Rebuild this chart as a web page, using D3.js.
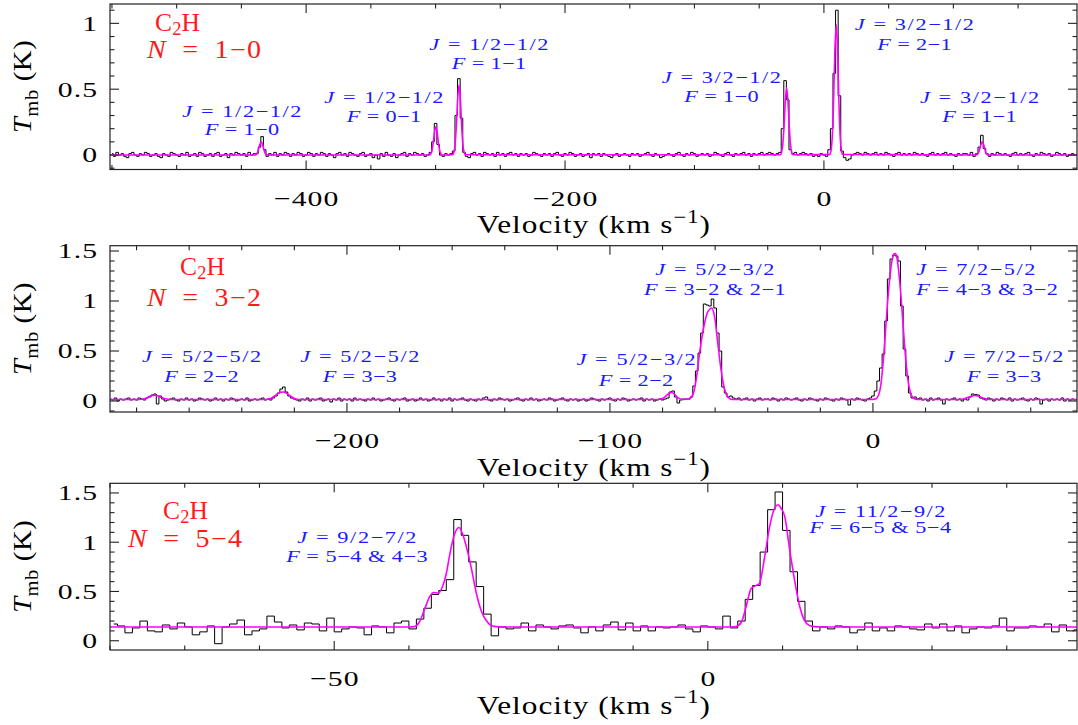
<!DOCTYPE html>
<html><head><meta charset="utf-8">
<script src="https://cdn.jsdelivr.net/npm/d3@7"></script>
<style>
body{margin:0;background:#fff}
svg text{font-family:"Liberation Serif","Times New Roman",serif}
</style></head>
<body><svg id="chart" width="1078" height="725"></svg>
<script>
// ================= DATA =================
// Panel 1: C2H N=1-0, channel centres start at p1Start, spacing p1Step (km/s)
const p1Start=-550, p1Step=2;
const p1Temp=[
 .01,-.01,.02,.00,.01,-.01,-.02,.01,.02,.00,   // -550
 -.01,.01,.00,.02,.01,-.01,.00,.01,-.01,-.02,  // -530
 .01,.00,-.01,.02,.01,.00,-.01,.01,.00,.02,    // -510
 -.01,.00,.01,-.01,.02,.01,-.01,.00,.01,-.01,  // -490
 .01,.02,-.01,.00,.01,-.02,.01,.00,.02,.01,    // -470
 .00,.01,-.01,.02,.00,.01,.01,.06,.14,.04,     // -450
 -.01,.01,.00,.02,-.01,.01,.00,.02,.01,-.01,   // -430
 .01,.00,.02,.01,-.01,.00,.02,.01,-.01,.01,    // -410
 .00,.02,.01,-.01,.01,.00,-.02,.01,.02,.00,    // -390
 .01,-.01,.02,.01,.00,-.01,.01,.02,-.01,.00,   // -370
 .01,-.02,.00,-.03,.01,-.01,.02,.00,-.01,.01,  // -350
 -.02,.00,.01,.02,-.01,.01,.00,.02,.01,.00,    // -330
 .01,-.01,.00,.02,.10,.24,.08,.00,-.01,.01,    // -310
 .00,.01,.03,.30,.58,.28,.02,-.01,-.02,.01,    // -290
 .02,.00,.01,-.01,.02,.01,.00,.01,-.01,.02,    // -270
 .00,.01,-.01,.01,.02,.00,.01,-.01,.01,.00,    // -250
 .01,-.01,.00,.02,.01,.00,-.01,.01,.00,.01,    // -230
 -.01,.01,.02,.00,-.01,.01,.00,.02,.01,-.01,   // -210
 .00,.01,-.01,.00,.01,-.02,.01,.00,.01,-.01,   // -190
 .01,.00,-.01,-.02,.00,.01,-.01,.00,.01,.00,   // -170
 -.01,.01,.00,.01,-.01,.00,.01,.02,.00,-.01,   // -150
 .01,.00,-.02,-.01,.00,.01,.00,-.01,.01,.02,   // -130
 .00,-.01,.01,.00,.02,.01,-.01,.00,.01,.00,    // -110
 .01,-.01,.00,.02,.01,.00,-.01,.01,.02,.00,    // -90
 -.01,.01,.00,.01,.02,.00,.01,-.01,.01,.00,    // -70
 .01,.02,.00,.01,.02,.01,.00,.01,.02,.20,      // -50
 .565,.42,.04,.01,.02,.00,.01,.02,.01,.00,     // -30
 .01,-.01,.00,-.01,.01,.00,-.01,.04,.20,.62,   // -10
 1.10,.45,.03,-.02,-.04,-.03,.00,.01,.02,.01,  // 10
 .00,.02,.01,.00,.01,.02,.00,.01,.00,.02,      // 30
 .01,.00,-.01,.01,.02,.00,.01,.00,.01,.00,     // 50
 .02,.01,.00,.01,.00,-.01,.01,.02,.00,.01,     // 70
 .00,.01,.02,.00,.01,.00,-.01,.01,.00,.01,     // 90
 .01,.00,.02,-.01,.01,.06,.15,.05,.01,-.01,    // 110
 .01,.00,.02,.01,.00,.01,.00,-.01,.01,.02,     // 130
 .00,.01,.00,.01,.02,.00,-.01,.01,.00,.02,     // 150
 .01,.00,.01,-.01,.00,.02,.01,.00,.01,-.01,    // 170
 .00,.01,.00                                   // 190
];
const p1Fit=[
 [-551.5,0],
 [-439.7,0],[-438.7,.004],[-437.7,.015],[-436.7,.044],[-435.7,.081],[-434.7,.10],[-433.7,.081],[-432.7,.044],[-431.7,.015],[-430.7,.004],[-429.7,0],
 [-304.8,0],[-303.8,.008],[-302.8,.033],[-301.8,.094],[-300.8,.174],[-299.8,.215],[-298.8,.174],[-297.8,.094],[-296.8,.033],[-295.8,.008],[-294.8,0],
 [-286.9,.002],[-285.9,.019],[-284.9,.081],[-283.9,.23],[-282.9,.43],[-281.9,.53],[-280.9,.43],[-279.9,.23],[-278.9,.081],[-277.9,.019],[-276.9,.002],
 [-33.8,.002],[-32.8,.018],[-31.8,.078],[-30.8,.222],[-29.8,.413],[-28.8,.51],[-27.8,.413],[-26.8,.222],[-25.8,.078],[-24.8,.018],[-23.8,.002],
 [4.5,.005],[5.5,.036],[6.5,.151],[7.5,.43],[8.5,.80],[9.5,.99],[10.5,.80],[11.5,.43],[12.5,.151],[13.5,.036],[14.5,.005],
 [117.3,0],[118.3,.004],[119.3,.015],[120.3,.044],[121.3,.081],[122.3,.10],[123.3,.081],[124.3,.044],[125.3,.015],[126.3,.004],[127.3,0],
 [195.5,0]
];
const p1XTicks=[-400,-200,0], p1XLabels=["\u2212400","\u2212200","0"];
const p1YTicks=[0,0.5,1], p1YLabels=["0","0.5","1"];

// Panel 2: C2H N=3-2
const p2Start=-290, p2Step=1;
const p2Temp=[
 .02,.01,.03,.00,.02,.01,.02,.03,.01,.02,   // -290
 .01,.03,.02,.01,.03,.04,.06,.07,-.03,.05,  // -280
 .02,.00,.01,.02,.03,.01,.00,.02,.01,.03,   // -270
 .01,.02,.00,.01,.03,.02,.01,.02,.00,.01,   // -260
 .03,.01,.02,.00,.02,.01,.03,.02,.00,.01,   // -250
 .02,.01,.03,.00,.01,.02,.01,.02,.03,.01,   // -240
 .02,.01,.03,.05,.08,.12,.14,.09,.05,.03,   // -230
 .02,.01,.00,.02,.01,.03,.00,.02,.01,.02,   // -220
 .03,.00,.01,.02,-.01,.02,.01,.03,.00,.02,  // -210
 .01,.02,.00,.03,.01,.02,.01,.00,.02,.01,   // -200
 .03,.01,.02,.00,.01,.02,.03,.01,.00,.02,   // -190
 .01,.02,.03,.00,.01,.02,.00,.01,.03,.01,   // -180
 .02,.00,.01,.03,.01,.02,.00,.02,.01,.03,   // -170
 .00,.02,.01,.02,.03,.01,.00,.02,.01,.00,   // -160
 .02,.01,.03,.04,.01,.00,.02,.01,.03,.02,   // -150
 .01,.02,.00,.01,.02,.03,.01,.00,.02,.01,   // -140
 .03,.01,.02,.00,.01,.02,.01,.03,.02,.00,   // -130
 .01,.02,.03,.01,.00,.02,.01,.02,.00,.01,   // -120
 .02,.00,.01,.03,.02,.01,.00,.02,.01,.02,   // -110
 .03,.01,.00,.02,.01,.03,.02,.00,.01,.02,   // -100
 .01,.02,.03,.00,.02,.01,.02,.00,.01,.02,   // -90
 .01,.02,.03,.09,.10,.04,-.02,.01,.02,.02,  // -80
 .02,.04,.15,.30,.48,.68,.97,.96,.95,1.02,  // -70
 .93,.68,.50,.14,.08,.04,.05,.03,.02,.03,   // -60
 .01,.02,.03,.01,.02,.00,.02,.03,.01,.02,   // -50
 .02,.01,.03,.02,.00,.02,.01,.03,.02,.01,   // -40
 .02,.03,.01,.00,.02,.01,.03,.02,.01,.00,   // -30
 .02,.01,.03,.02,.01,.00,.02,.01,.03,.02,   // -20
 .01,-.04,.02,.01,.03,.02,.01,.00,.02,.03,  // -10
 .05,.10,.20,.33,.47,.80,1.22,1.42,1.46,1.45, // 0
 1.40,.95,.52,.25,.08,.03,.04,.02,.03,.01,  // 10
 .02,.00,.03,.01,.02,.03,.01,-.03,.02,.01,  // 20
 .02,.03,.01,.02,.00,.02,.01,.04,.07,.065,  // 30
 .06,.03,.02,.01,.03,.02,.00,.02,.01,.03,   // 40
 .02,.01,.03,.00,.02,.01,.02,.03,.01,.00,   // 50
 .02,.01,.03,.02,-.03,.01,.02,.00,.02,.01,  // 60
 .02,.01,.03,.00,.02,.01,.02,.01            // 70
];
const p2Fit=[
 [-290.1,.015],[-279,.015],[-277,.022],[-275.5,.04],[-274,.055],[-273,.057],[-272,.052],[-270.5,.035],[-269,.022],[-267,.015],
 [-231,.015],[-229,.025],[-227.5,.05],[-226,.078],[-224.4,.09],[-223,.078],[-221.5,.05],[-220,.025],[-218,.015],
 [-82,.015],[-80,.025],[-78.5,.055],[-77.3,.08],[-76.5,.085],[-75.5,.07],[-74.5,.04],[-73.5,.022],[-72,.016],
 [-70,.02],[-69,.04],[-68,.10],[-67,.25],[-66,.46],[-65,.64],[-64,.78],[-63,.88],[-62,.92],[-61.3,.93],[-60.5,.88],[-60,.81],[-59,.58],[-58,.36],[-57,.19],[-56,.08],[-55,.035],[-54,.018],[-53,.015],
 [-1,.015],[1,.02],[2,.05],[3,.16],[4,.42],[5,.78],[6,1.12],[7,1.36],[8,1.47],[8.6,1.475],[9,1.45],[10,1.25],[11,.93],[12,.57],[13,.28],[14,.11],[15,.04],[16,.02],[17,.015],
 [33,.015],[35,.025],[37,.045],[38.7,.055],[40.5,.045],[42,.028],[44,.015],[77.6,.015]
];
const p2XTicks=[-200,-100,0], p2XLabels=["\u2212200","\u2212100","0"];
const p2YTicks=[0,0.5,1,1.5], p2YLabels=["0","0.5","1","1.5"];

// Panel 3: C2H N=5-4
const p3Start=-79.5, p3Step=1;
const p3Temp=[
 .17,.15,.08,.13,.20,.10,.09,.16,.12,.18,   // -80
 .14,.06,.09,.15,-.03,.14,.17,.21,.06,.10,  // -70
 .12,.25,.19,.13,.16,.11,.18,.17,.10,.23,   // -60
 .09,.12,.14,.13,.06,.15,.14,.08,.18,.20,   // -50
 .12,.22,.33,.47,.51,.62,1.23,1.07,.80,.55, // -40
 .27,.05,.14,.12,.13,.18,.10,.16,.14,.12,   // -30
 .15,.16,.13,.08,.14,.10,.16,.19,.11,.18,   // -20
 .10,.15,.10,.14,.13,.14,.16,.12,.09,.15,   // -10
 .14,.12,.25,.13,.20,.42,.56,.90,1.33,1.51, // 0
 1.12,.70,.40,.20,.10,.14,.12,.15,.14,.08,  // 10
 .11,.18,.10,.13,.10,.15,.14,.12,.11,.17,   // 20
 .13,.17,.10,.15,.08,.12,.14,.13,.15,.23,   // 30
 .10,.13,.13,.15,.14,.17,.09,.16,.10,.11    // 40
];
const p3Fit=[
 [-80,.14],[-39.9,.14],[-39.2,.145],[-38.6,.19],[-37.9,.32],[-37.2,.45],[-36.7,.49],[-36.1,.485],[-35.5,.55],[-35,.68],[-34.5,.89],[-33.9,1.08],[-33.3,1.15],[-32.8,1.08],[-32.2,.92],[-31.6,.72],[-31,.49],[-30.3,.30],[-29.6,.20],[-29,.155],[-28.3,.143],[-27.5,.14],
 [3,.14],[3.8,.145],[4.5,.19],[5.1,.34],[5.8,.53],[6.3,.555],[6.9,.58],[7.6,.85],[8.25,1.15],[8.8,1.32],[9.4,1.38],[9.8,1.345],[10.3,1.26],[10.9,.95],[11.6,.62],[12.3,.345],[12.9,.21],[13.6,.155],[14.3,.143],[15,.14],[49.4,.14]
];
const p3XTicks=[-50,0], p3XLabels=["\u221250","0"];
const p3YTicks=[0,0.5,1,1.5], p3YLabels=["0","0.5","1","1.5"];

// Transition labels: [velocity, Tmb, anchor, italic letter, rest]
const p1Notes=[
 [-449.6,.289,"middle","J"," = 1/2\u22121/2"],[-449.6,.152,"middle","F"," = 1\u22120"],
 [-339.9,.395,"middle","J"," = 1/2\u22121/2"],[-339.9,.251,"middle","F"," = 0\u22121"],
 [-258.8,.797,"middle","J"," = 1/2\u22121/2"],[-258.8,.653,"middle","F"," = 1\u22121"],
 [-79.2,.547,"middle","J"," = 3/2\u22121/2"],[-79.2,.402,"middle","F"," = 1\u22120"],
 [69.9,.949,"middle","J"," = 3/2\u22121/2"],[69.9,.797,"middle","F"," = 2\u22121"],
 [120.2,.395,"middle","J"," = 3/2\u22121/2"],[120.2,.251,"middle","F"," = 1\u22121"]
];
const p2Notes=[
 [-255.3,.39,"middle","J"," = 5/2\u22125/2"],[-255.3,.19,"middle","F"," = 2\u22122"],
 [-195.1,.39,"middle","J"," = 5/2\u22125/2"],[-195.1,.19,"middle","F"," = 3\u22123"],
 [-90.1,.36,"middle","J"," = 5/2\u22123/2"],[-90.1,.15,"middle","F"," = 2\u22122"],
 [-60.1,1.26,"middle","J"," = 5/2\u22123/2"],[-60.1,1.06,"middle","F"," = 3\u22122 & 2\u22121"],
 [16.5,1.26,"start","J"," = 7/2\u22125/2"],[16.5,1.06,"start","F"," = 4\u22123 & 3\u22122"],
 [49.8,.39,"middle","J"," = 7/2\u22125/2"],[49.8,.19,"middle","F"," = 3\u22123"]
];
const p3Notes=[
 [-46.96,.992,"middle","J"," = 9/2\u22127/2"],[-46.96,.799,"middle","F"," = 5\u22124 & 4\u22123"],
 [23.08,1.256,"middle","J"," = 11/2\u22129/2"],[23.08,1.093,"middle","F"," = 6\u22125 & 5\u22124"]
];
const moleculeLabels=["1\u22120","3\u22122","5\u22124"];

// ================= LAYOUT =================
const svg=d3.select("#chart");
const panels=[
 {x0:110,x1:1077,y0:4,y1:169.5,xd:[-551.5,195.5],yd:[-0.11,1.147],start:p1Start,step:p1Step,temp:p1Temp,fit:p1Fit,
  xt:p1XTicks,xl:p1XLabels,xm:50,yt:p1YTicks,yl:p1YLabels,notes:p1Notes,nl:moleculeLabels[0],
  cx:155,cy:31,nx:147,ny:58},
 {x0:110,x1:1077,y0:245.7,y1:412,xd:[-290.1,77.6],yd:[-0.11,1.553],start:p2Start,step:p2Step,temp:p2Temp,fit:p2Fit,
  xt:p2XTicks,xl:p2XLabels,xm:20,yt:p2YTicks,yl:p2YLabels,notes:p2Notes,nl:moleculeLabels[1],
  cx:180,cy:275,nx:147,ny:306},
 {x0:110,x1:1077,y0:483.3,y1:650,xd:[-80,49.4],yd:[-0.094,1.598],start:p3Start,step:p3Step,temp:p3Temp,fit:p3Fit,
  xt:p3XTicks,xl:p3XLabels,xm:10,yt:p3YTicks,yl:p3YLabels,notes:p3Notes,nl:moleculeLabels[2],
  cx:163,cy:519,nx:128,ny:547}
];

// text with horizontal widening k and letter spacing (fixed ls, or derived from a target width)
function label(parent,x,y,parts,o){
  const size=o.size, k=o.k||1.1;
  const t=parent.append("text").attr("font-size",size).attr("fill",o.color||"#000")
    .attr("text-anchor",o.anchor||"middle").attr("x",0).attr("y",0);
  let cur=0, n=0;
  parts.forEach(p=>{
    const s=(typeof p==="string")?{t:p}:p;
    n+=s.t.length;
    const ts=t.append("tspan").text(s.t);
    let target=0,fs=size;
    if(s.sub){target=size*(o.subOff||0.28);fs=size*0.72;}
    if(s.sup){target=-size*0.42;fs=size*0.72;}
    if(s.i) ts.attr("font-style","italic");
    ts.attr("font-size",fs);
    if(Math.abs(target-cur)>1e-6){ts.attr("dy",target-cur);cur=target;}
  });
  const nat=t.node().getComputedTextLength();
  let ls=(o.ls!==undefined)?o.ls:0;
  if(o.width) ls=(o.width/k-nat)/Math.max(1,n-1);
  t.attr("letter-spacing",ls);
  const anc=o.anchor||"middle";
  const shift=anc==="middle"?k*ls/2:(anc==="end"?k*ls:0);
  const rot=o.rot||0;
  const dx=rot?0:shift, dy=rot?-shift:0;
  t.attr("transform",`translate(${x+dx},${y+dy})${rot?` rotate(${rot})`:""} scale(${k},1)`);
  return t;
}

panels.forEach((P,pi)=>{
  const x=d3.scaleLinear().domain(P.xd).range([P.x0,P.x1]);
  const y=d3.scaleLinear().domain(P.yd).range([P.y1,P.y0]);
  const g=svg.append("g");
  const cid="clip"+pi;
  svg.append("clipPath").attr("id",cid).append("rect")
    .attr("x",P.x0).attr("y",P.y0).attr("width",P.x1-P.x0).attr("height",P.y1-P.y0);
  const plot=g.append("g").attr("clip-path",`url(#${cid})`);

  const spec=P.temp.map((t,i)=>[P.start+i*P.step,t]);
  plot.append("path").datum(spec)
    .attr("d",d3.line().x(d=>x(d[0])).y(d=>y(d[1])).curve(d3.curveStep))
    .attr("fill","none").attr("stroke","#000").attr("stroke-width",1);
  plot.append("path").datum(P.fit)
    .attr("d",d3.line().x(d=>x(d[0])).y(d=>y(d[1])).curve(d3.curveMonotoneX))
    .attr("fill","none").attr("stroke","#ff00ff").attr("stroke-width",1.6);

  g.append("rect").attr("x",P.x0).attr("y",P.y0).attr("width",P.x1-P.x0).attr("height",P.y1-P.y0)
    .attr("fill","none").attr("stroke","#222").attr("stroke-width",1.2);

  const tk=g.append("g").attr("stroke","#222").attr("stroke-width",1.1);
  const xmin=Math.ceil(P.xd[0]/P.xm)*P.xm;
  d3.range(xmin,P.xd[1],P.xm).forEach(v=>{
    const major=P.xt.includes(v);
    const L=major?9:4.5, px=x(v);
    tk.append("line").attr("x1",px).attr("x2",px).attr("y1",P.y1).attr("y2",P.y1-L);
    tk.append("line").attr("x1",px).attr("x2",px).attr("y1",P.y0).attr("y2",P.y0+L);
  });
  d3.range(-1,Math.floor(P.yd[1]*10)+1).forEach(i=>{
    const v=i/10;
    if(v<P.yd[0]||v>P.yd[1])return;
    const major=(i%5===0);
    const L=major?9:4.5, py=y(v);
    tk.append("line").attr("x1",P.x0).attr("x2",P.x0+L).attr("y1",py).attr("y2",py);
    tk.append("line").attr("x1",P.x1).attr("x2",P.x1-L).attr("y1",py).attr("y2",py);
  });
  P.xt.forEach((v,i)=>label(g,x(v),P.y1+36,[P.xl[i]],{size:22,k:1.35,ls:0.8,anchor:"middle"}));
  P.yt.forEach((v,i)=>label(g,97,y(v)+7.4,[P.yl[i]],{size:22,k:1.35,ls:0.8,anchor:"end"}));

  label(g,(P.x0+P.x1)/2,P.y1+63.5,["Velocity (km s",{t:"\u22121",sup:true},")"],{size:25,k:1.25,width:233});
  label(g,31,(P.y0+P.y1)/2,[{t:"T",i:true},{t:"mb",sub:true}," (K)"],{size:25,k:1.15,width:93,rot:-90});

  label(g,P.cx,P.cy,["C",{t:"2",sub:true},"H"],{size:25,k:1.02,width:45,anchor:"start",color:"#ff1a1a",subOff:0.15});
  label(g,P.nx,P.ny,[{t:"N",i:true},"\u2002=\u2002"+P.nl],{size:25,k:1.12,width:114,anchor:"start",color:"#ff1a1a"});

  P.notes.forEach(n=>{
    const nch=(n[3]+n[4]).length;
    label(g,x(n[0]),y(n[1]),[{t:n[3],i:true},n[4]],{size:16.5,k:1.35,width:11.2*nch-4,anchor:n[2],color:"#1a1aff"});
  });
});
</script></body></html>
